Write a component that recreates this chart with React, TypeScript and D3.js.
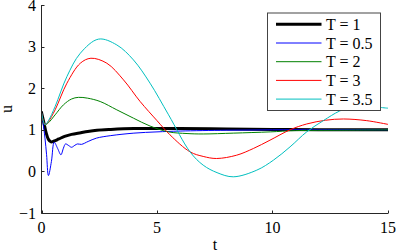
import React from 'react';
import * as d3 from 'd3';

const tBlack = [0, 0.1, 0.2, 0.3, 0.41, 0.55, 0.75, 1.0, 1.3, 1.7, 2.0, 2.4, 3, 4, 5, 6, 8, 10, 12, 15];
const uBlack = [1.42, 1.18, 0.93, 0.77, 0.71, 0.73, 0.78, 0.84, 0.89, 0.93, 0.96, 0.99, 1.01, 1.03, 1.03, 1.03, 1.02, 1.01, 1.0, 1.0];

const tBlue = [0, 0.06, 0.15, 0.22, 0.3, 0.43, 0.55, 0.7, 0.84, 0.95, 1.04, 1.18, 1.3, 1.45, 1.56, 1.73, 2.02, 2.38, 3, 4, 5, 6, 8, 10, 12, 15];
const uBlue = [1.42, 1.2, 0.8, 0.4, -0.1, 0.24, 0.7, 0.55, 0.4, 0.56, 0.66, 0.62, 0.58, 0.63, 0.66, 0.65, 0.72, 0.8, 0.86, 0.92, 0.95, 0.97, 0.99, 1.0, 1.0, 1.0];

const tGreen = [0, 0.15, 0.3, 0.59, 0.95, 1.3, 1.6, 2.0, 2.54, 3.26, 3.98, 4.7, 5.5, 6.3, 7.0, 8.3, 9.9, 11, 13, 15];
const uGreen = [1.42, 1.12, 1.17, 1.36, 1.6, 1.74, 1.78, 1.76, 1.68, 1.48, 1.28, 1.09, 0.95, 0.91, 0.9, 0.92, 0.95, 0.98, 0.99, 1.0];

const tRed = [0, 0.15, 0.3, 0.59, 1.1, 1.68, 2.14, 2.83, 3.55, 4.27, 5.0, 5.56, 6.43, 7.0, 7.58, 8.45, 9.17, 9.89, 10.76, 11.48, 12.3, 13.07, 14.08, 15];
const uRed = [1.42, 1.12, 1.2, 1.48, 2.12, 2.6, 2.72, 2.6, 2.2, 1.68, 1.22, 0.88, 0.47, 0.36, 0.31, 0.39, 0.55, 0.75, 1.0, 1.14, 1.23, 1.26, 1.22, 1.13];

const tCyan = [0, 0.15, 0.3, 0.59, 1.1, 1.68, 2.47, 3.26, 3.98, 4.7, 5.5, 6.43, 7.0, 7.6, 8.3, 9.32, 10.04, 10.76, 11.48, 12.2, 12.9, 13.6, 14.2, 14.66, 15];
const uCyan = [1.42, 1.12, 1.22, 1.56, 2.28, 2.84, 3.18, 3.04, 2.68, 2.12, 1.36, 0.47, 0.15, -0.03, -0.13, 0.03, 0.27, 0.59, 0.95, 1.22, 1.45, 1.58, 1.6, 1.54, 1.52];

const labels = ['T = 1', 'T = 0.5', 'T = 2', 'T = 3', 'T = 3.5'];
const colors = ['#000000', '#0000ff', '#008000', '#ff0000', '#00bfbf'];
const widths = [3, 1, 1, 1, 1];
const xTicks = [0, 5, 10, 15];
const yTicks = [-1, 0, 1, 2, 3, 4];

const series = [
  [tBlack, uBlack],
  [tBlue, uBlue],
  [tGreen, uGreen],
  [tRed, uRed],
  [tCyan, uCyan],
];

const font = "'Liberation Serif', 'Times New Roman', Tinos, 'Nimbus Roman', 'Noto Serif', 'DejaVu Serif', Times, serif";

export default function App() {
  const W = 398, H = 252;
  const x = d3.scaleLinear().domain([0, 15]).range([41.5, 388]);
  const y = d3.scaleLinear().domain([-1, 4]).range([213, 5]);

  const line = d3.line<[number, number]>()
    .x(d => x(d[0]))
    .y(d => y(d[1]))
    .curve(d3.curveCatmullRom.alpha(0.5));

  const axisColor = '#262626';
  const x0 = x(0), yb = Math.round(y(-1)) + 0.5;

  const legX = 267.5, legY = 13, legW = 113, legH = 97.5;
  const rowH = 18.7;
  const txt = { fontFamily: font, fontSize: '16px' };

  return (
    <svg width={W} height={H} style={{ position: 'absolute', left: 0, top: 0, background: '#fff', fontFamily: font }}>
      <defs>
        <clipPath id="plotArea">
          <rect x={x(0)} y={y(4)} width={x(15) - x(0)} height={y(-1) - y(4)} />
        </clipPath>
      </defs>

      <g clipPath="url(#plotArea)">
        {series.map((s, i) => (
          <path key={i}
                d={line(s[0].map((t, j) => [t, s[1][j]] as [number, number])) || ''}
                fill="none" stroke={colors[i]} strokeWidth={widths[i]}
                strokeLinejoin="round" strokeLinecap="round" />
        ))}
      </g>

      {/* axes */}
      <line x1={x0} x2={x0} y1={y(4)} y2={yb} stroke={axisColor} strokeWidth={1} />
      <line x1={x0} x2={x(15)} y1={yb} y2={yb} stroke={axisColor} strokeWidth={1} />
      {yTicks.map(v => (
        <g key={'y' + v}>
          <line x1={x0} x2={x0 + 3} y1={Math.round(y(v)) + 0.5} y2={Math.round(y(v)) + 0.5} stroke={axisColor} />
          <text x={36} y={y(v)} dy="0.35em" textAnchor="end" fill="#000" style={txt}>
            {v < 0 ? '\u2212' + Math.abs(v) : v}
          </text>
        </g>
      ))}
      {xTicks.map(v => (
        <g key={'x' + v}>
          <line x1={Math.round(x(v)) + 0.5} x2={Math.round(x(v)) + 0.5} y1={yb} y2={yb - 3} stroke={axisColor} />
          <text x={x(v)} y={233} textAnchor="middle" fill="#000" style={txt}>{v}</text>
        </g>
      ))}
      <text x={215} y={250} textAnchor="middle" fill="#000" style={txt}>t</text>
      <text transform="translate(12,109) rotate(-90)" textAnchor="middle" fill="#000" style={txt}>u</text>

      {/* legend */}
      <rect x={legX} y={legY} width={legW} height={legH} fill="#fff" stroke="#444" strokeWidth={1} />
      {labels.map((lab, i) => {
        const cy = 24.3 + i * rowH;
        return (
          <g key={lab}>
            <line x1={276} x2={321.5} y1={cy} y2={cy} stroke={colors[i]} strokeWidth={widths[i]} />
            <text x={326} y={cy} dy="0.35em" fill="#000" style={txt}>{lab}</text>
          </g>
        );
      })}
    </svg>
  );
}
